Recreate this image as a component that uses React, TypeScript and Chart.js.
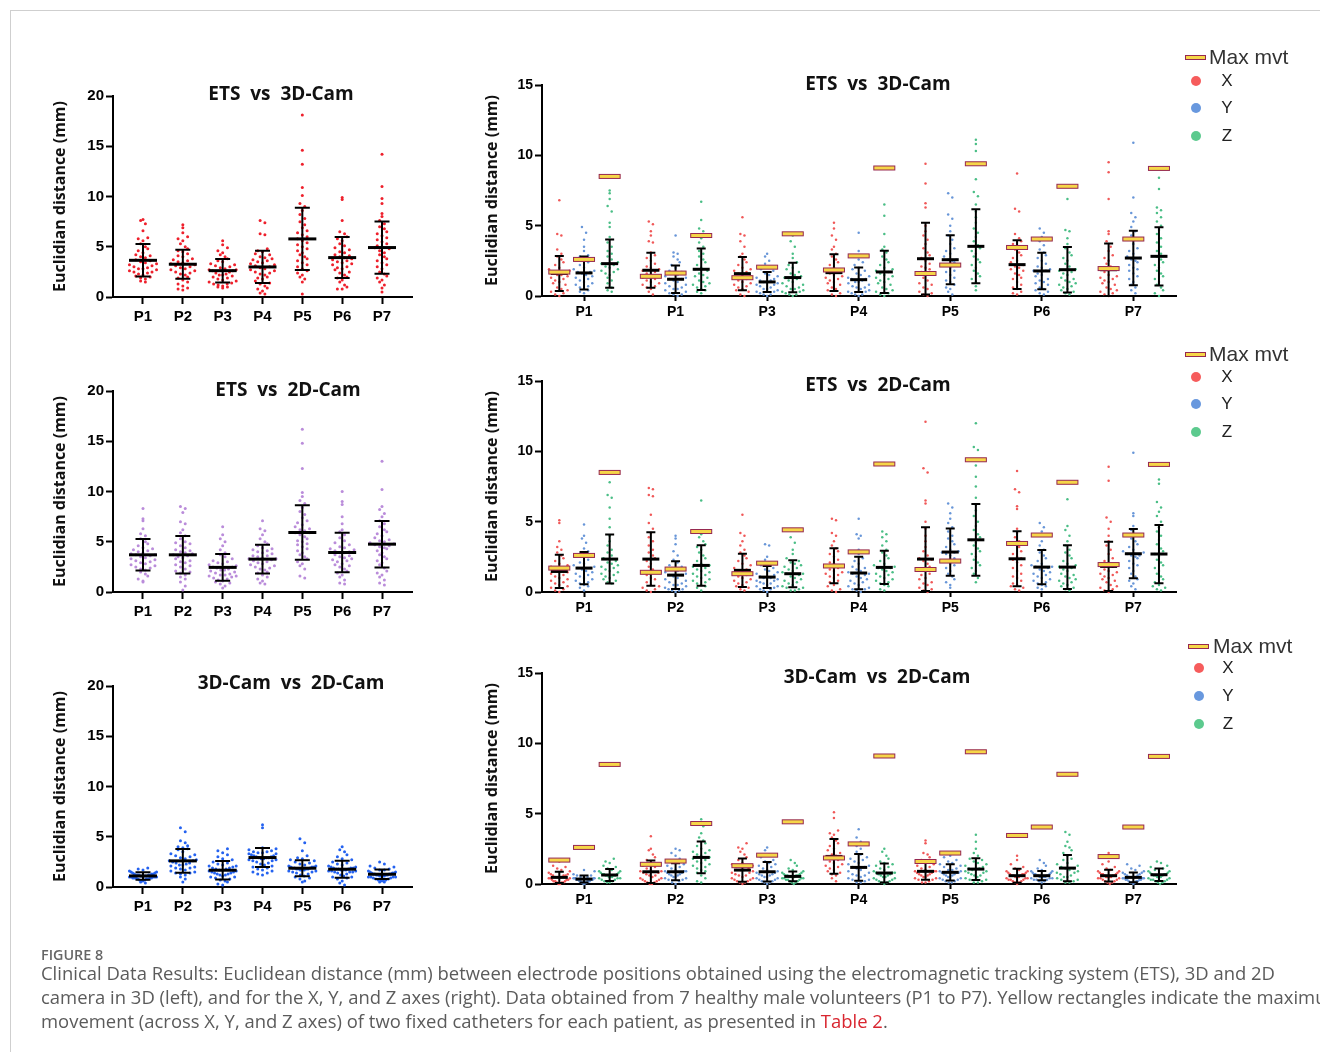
import React, { useEffect, useRef } from "react";
import { Chart, registerables } from "chart.js";
Chart.register(...registerables);

// ---------- categories & tick labels ----------
const patientLabels = ["P1", "P2", "P3", "P4", "P5", "P6", "P7"];
const topRightLabels = ["P1", "P1", "P3", "P4", "P5", "P6", "P7"];
const leftYTicks = [0, 5, 10, 15, 20];
const rightYTicks = [0, 5, 10, 15];

// ---------- left column: Euclidean distance per patient ----------
const ets3dDist = [
  "7.7 7.6 7.3 6.6 5.9 5.8 5.6 5.3 5.0 4.8 4.6 4.4 4.2 4.1 4.0 3.9 3.7 3.6 3.5 3.4 3.3 3.2 3.1 3.0 2.9 2.8 2.8 2.7 2.6 2.5 2.5 2.4 2.3 2.2 2.1 2.0 1.9 1.8 1.6 1.5",
  "7.2 6.9 6.4 6.0 5.8 5.6 5.3 5.0 4.8 4.6 4.5 4.3 4.1 4.0 3.8 3.7 3.6 3.5 3.4 3.3 3.2 3.1 3.0 2.9 2.8 2.7 2.6 2.5 2.4 2.3 2.2 2.0 1.9 1.7 1.5 1.3 1.1 0.9 0.8 0.7",
  "5.6 5.2 4.9 4.6 4.4 4.2 4.0 3.8 3.6 3.5 3.3 3.2 3.0 2.9 2.8 2.7 2.6 2.6 2.5 2.4 2.3 2.2 2.2 2.1 2.0 1.9 1.8 1.7 1.6 1.5 1.4 1.3 1.3 1.2 1.1 1.0 1.0 0.9 2.7 3.1",
  "7.6 7.4 6.3 6.2 4.8 4.6 4.5 4.3 4.2 4.0 3.9 3.7 3.6 3.5 3.4 3.3 3.2 3.1 3.0 2.9 2.8 2.7 2.6 2.5 2.4 2.3 2.2 2.0 1.9 1.8 1.6 1.4 1.3 1.1 0.9 0.8 0.6 0.4 0.3 3.8",
  "18.1 14.6 13.2 10.9 10.1 9.3 9.0 8.6 8.2 7.8 7.5 7.2 6.9 6.6 6.4 6.2 6.0 5.8 5.6 5.4 5.2 5.0 4.8 4.6 4.4 4.2 4.0 3.8 3.6 3.4 3.2 3.0 2.8 2.6 2.4 2.2 2.0 1.8 1.5 0.3",
  "9.9 9.7 7.6 6.5 6.3 6.0 5.8 5.6 5.3 5.1 4.9 4.7 4.5 4.4 4.2 4.1 4.0 3.9 3.8 3.6 3.5 3.4 3.3 3.2 3.0 2.9 2.8 2.7 2.5 2.4 2.2 2.0 1.9 1.7 1.5 1.2 1.0 0.8 0.8 3.7",
  "14.2 11.0 9.8 9.3 8.3 8.0 7.6 7.3 7.0 6.8 6.5 6.3 6.1 5.9 5.7 5.5 5.3 5.1 5.0 4.8 4.6 4.4 4.2 4.0 3.8 3.6 3.4 3.2 3.0 2.8 2.5 2.3 2.1 1.9 1.7 1.5 1.2 0.9 0.5 4.9",
];
const ets3dMean = [3.65, 3.26, 2.62, 2.99, 5.78, 3.92, 4.92];
const ets3dSd = [1.62, 1.45, 1.17, 1.6, 3.1, 2.04, 2.6];

const ets2dDist = [
  "8.3 7.3 7.1 6.3 5.8 5.6 5.3 5.0 4.8 4.6 4.4 4.3 4.1 4.0 3.9 3.8 3.7 3.6 3.5 3.4 3.3 3.2 3.1 3.0 2.9 2.8 2.7 2.6 2.5 2.4 2.3 2.2 2.0 1.8 1.6 1.3 1.1 1.0 3.7 4.2",
  "8.5 8.3 7.9 7.0 6.8 6.2 5.9 5.6 5.3 5.0 4.8 4.6 4.4 4.2 4.0 3.9 3.8 3.6 3.5 3.4 3.3 3.1 3.0 2.9 2.7 2.6 2.5 2.3 2.1 2.0 1.9 1.7 1.5 1.3 1.0 0.6 0.2 3.7 4.1 4.9",
  "6.5 5.7 5.3 5.0 4.6 4.2 3.9 3.7 3.5 3.3 3.1 3.0 2.9 2.8 2.7 2.6 2.5 2.4 2.3 2.2 2.1 2.0 1.9 1.8 1.7 1.6 1.6 1.5 1.4 1.3 1.2 1.1 1.0 0.9 0.8 0.6 0.4 2.5 2.2 1.7",
  "7.1 6.3 6.1 5.7 5.3 5.0 4.8 4.6 4.4 4.3 4.1 4.0 3.9 3.8 3.6 3.5 3.4 3.3 3.2 3.1 3.0 2.9 2.8 2.7 2.6 2.5 2.4 2.2 2.0 1.9 1.7 1.5 1.3 1.1 0.9 0.8 3.3 3.6 2.3 4.2",
  "16.2 14.8 12.3 9.9 9.5 9.1 8.8 8.4 8.0 7.7 7.4 7.1 6.9 6.7 6.5 6.3 6.1 5.9 5.7 5.5 5.3 5.1 5.0 4.8 4.7 4.5 4.3 4.1 3.9 3.7 3.5 3.3 3.0 2.8 2.6 2.3 1.6 1.4 5.9 6.2",
  "10.0 9.0 8.7 7.5 6.8 6.2 6.0 5.7 5.4 5.1 4.9 4.7 4.5 4.4 4.2 4.1 4.0 3.9 3.7 3.6 3.5 3.4 3.2 3.1 3.0 2.8 2.7 2.5 2.3 2.1 1.9 1.7 1.5 1.2 0.9 0.8 3.9 4.3 3.3 2.6",
  "13.0 10.2 8.5 8.2 7.8 7.5 7.1 6.8 6.5 6.2 6.0 5.8 5.6 5.4 5.2 5.0 4.9 4.8 4.6 4.5 4.3 4.1 3.9 3.7 3.5 3.3 3.1 2.9 2.7 2.4 2.1 1.9 1.7 1.5 1.2 0.9 0.7 4.7 5.1 4.4",
];
const ets2dMean = [3.7, 3.7, 2.45, 3.27, 5.92, 3.93, 4.76];
const ets2dSd = [1.57, 1.86, 1.32, 1.42, 2.71, 1.97, 2.31];

const camDist = [
  "1.9 1.8 1.7 1.6 1.5 1.5 1.4 1.4 1.3 1.3 1.3 1.2 1.2 1.2 1.2 1.1 1.1 1.1 1.1 1.0 1.0 1.0 1.0 0.9 0.9 0.9 0.9 0.8 0.8 0.8 0.7 0.7 0.6 0.6 0.5 0.4 1.0 1.1 1.2 0.9",
  "5.9 5.5 4.6 4.4 4.1 4.0 3.9 3.8 3.7 3.5 3.3 3.2 3.0 2.9 2.8 2.7 2.6 2.5 2.4 2.3 2.2 2.1 2.0 1.9 1.8 1.7 1.6 1.5 1.4 1.4 1.3 1.2 1.0 0.8 0.5 2.6 2.4 3.1 1.9 2.2",
  "3.8 3.6 3.4 3.2 3.0 2.8 2.7 2.5 2.4 2.3 2.2 2.1 2.0 1.9 1.9 1.8 1.7 1.7 1.6 1.5 1.5 1.4 1.3 1.2 1.2 1.1 1.0 1.0 0.9 0.8 0.7 0.6 0.5 0.3 0.2 1.6 1.8 1.4 2.1 1.3",
  "6.2 5.9 3.9 3.8 3.7 3.6 3.5 3.4 3.4 3.3 3.2 3.1 3.1 3.0 3.0 2.9 2.9 2.8 2.8 2.7 2.6 2.6 2.5 2.4 2.3 2.2 2.1 2.0 1.9 1.8 1.7 1.6 1.5 1.4 1.3 1.2 2.9 3.3 2.7 3.5",
  "4.8 4.4 3.6 3.1 2.9 2.8 2.7 2.6 2.5 2.4 2.3 2.2 2.1 2.1 2.0 2.0 1.9 1.9 1.8 1.8 1.8 1.7 1.7 1.6 1.6 1.5 1.5 1.4 1.3 1.2 1.1 1.0 0.9 0.8 0.6 0.5 1.9 2.0 1.7 1.8",
  "4.0 3.7 3.5 3.2 3.0 2.8 2.7 2.5 2.4 2.3 2.2 2.1 2.0 2.0 1.9 1.9 1.8 1.8 1.7 1.7 1.6 1.6 1.5 1.5 1.4 1.3 1.2 1.1 1.0 1.0 0.9 0.8 0.6 0.4 0.2 1.7 1.8 1.6 1.9 1.5",
  "2.5 2.3 2.1 2.0 1.9 1.8 1.7 1.7 1.6 1.5 1.5 1.4 1.4 1.3 1.3 1.3 1.2 1.2 1.2 1.1 1.1 1.1 1.0 1.0 1.0 0.9 0.9 0.8 0.8 0.7 0.7 0.6 0.6 0.5 0.5 1.2 1.3 1.1 1.4 1.0",
];
const camMean = [1.1, 2.6, 1.67, 2.93, 1.87, 1.77, 1.27];
const camSd = [0.37, 1.17, 0.92, 0.95, 0.8, 0.84, 0.47];

// ---------- right column: per-axis distances ----------
const ets3dX = [
  "6.8 4.4 4.3 3.3 3.0 2.8 2.6 2.4 2.2 2.0 1.9 1.8 1.7 1.6 1.5 1.4 1.3 1.2 1.1 1.0 0.9 0.8 0.6 0.5 0.4 0.3 0.2 0.1 0.0 1.5",
  "5.3 5.1 4.6 4.3 3.9 3.8 3.1 2.9 2.7 2.5 2.3 2.1 2.0 1.9 1.8 1.7 1.6 1.5 1.4 1.3 1.2 1.1 1.0 0.9 0.8 0.7 0.6 0.5 0.3 0.1",
  "5.6 4.4 4.3 3.9 3.5 3.0 2.8 2.6 2.4 2.2 2.0 1.9 1.8 1.7 1.6 1.5 1.4 1.3 1.2 1.1 1.0 0.9 0.8 0.7 0.6 0.5 0.4 0.3 0.1 0.0",
  "5.2 4.8 4.3 4.0 3.5 3.3 3.0 2.8 2.6 2.4 2.2 2.0 1.9 1.8 1.7 1.6 1.5 1.4 1.3 1.2 1.0 0.9 0.8 0.6 0.5 0.4 0.2 0.1 0.0 1.1",
  "9.4 8.0 6.6 6.3 5.0 4.6 4.3 4.0 3.7 3.4 3.1 2.9 2.7 2.5 2.3 2.1 1.9 1.7 1.5 1.3 1.1 0.9 0.8 0.6 0.5 0.3 0.2 0.1 0.0 2.0",
  "8.7 6.2 6.0 4.4 4.1 3.9 3.7 3.5 3.3 3.1 2.9 2.7 2.5 2.4 2.2 2.0 1.9 1.8 1.6 1.5 1.3 1.2 1.0 0.8 0.6 0.5 0.3 0.2 0.1 2.1",
  "9.5 8.8 6.9 4.6 4.4 3.9 3.5 3.2 2.9 2.7 2.5 2.3 2.1 1.9 1.7 1.5 1.4 1.3 1.2 1.1 1.0 0.9 0.8 0.6 0.5 0.4 0.3 0.2 0.1 0.0",
];
const ets3dY = [
  "4.9 4.5 4.0 3.5 3.2 2.9 2.8 2.6 2.4 2.2 2.0 1.9 1.8 1.7 1.6 1.5 1.4 1.3 1.2 1.1 1.0 0.9 0.8 0.7 0.6 0.5 0.4 0.3 0.2 1.7",
  "4.3 3.1 3.0 2.8 2.6 2.4 2.2 2.0 1.8 1.7 1.6 1.5 1.4 1.3 1.2 1.1 1.0 0.9 0.8 0.7 0.6 0.5 0.5 0.4 0.3 0.2 0.1 0.1 0.0 1.2",
  "3.0 2.8 2.5 2.3 2.1 1.9 1.8 1.6 1.5 1.4 1.3 1.2 1.1 1.0 1.0 0.9 0.8 0.8 0.7 0.6 0.5 0.5 0.4 0.3 0.3 0.2 0.1 0.1 0.0 1.1",
  "4.5 3.2 2.6 2.4 2.2 2.0 1.9 1.8 1.6 1.5 1.4 1.3 1.2 1.1 1.0 1.0 0.9 0.8 0.7 0.6 0.6 0.5 0.4 0.3 0.3 0.2 0.1 0.1 0.0 1.2",
  "7.3 7.0 5.8 5.5 5.0 4.6 4.3 4.0 3.7 3.4 3.2 3.0 2.8 2.6 2.5 2.4 2.2 2.0 1.8 1.7 1.5 1.3 1.1 1.0 0.8 0.6 0.5 0.3 0.1 2.6",
  "4.8 4.5 4.2 3.9 3.6 3.3 3.1 2.9 2.7 2.5 2.3 2.1 2.0 1.9 1.8 1.6 1.5 1.4 1.2 1.1 1.0 0.9 0.8 0.6 0.5 0.4 0.3 0.2 0.1 1.8",
  "10.9 7.0 5.9 5.6 5.3 4.9 4.6 4.3 4.0 3.7 3.4 3.2 3.0 2.8 2.6 2.5 2.4 2.2 2.0 1.9 1.8 1.6 1.4 1.2 1.0 0.8 0.6 0.4 0.2 2.7",
];
const ets3dZ = [
  "7.5 7.3 6.9 6.4 6.0 5.2 4.9 4.2 3.8 3.5 3.2 3.0 2.8 2.6 2.4 2.3 2.2 2.1 2.0 1.9 1.8 1.7 1.6 1.5 1.3 1.1 0.9 0.6 0.4 0.3",
  "6.7 5.4 4.8 4.6 4.1 3.8 3.5 3.2 3.0 2.8 2.6 2.4 2.2 2.0 1.9 1.8 1.6 1.5 1.4 1.3 1.1 1.0 0.9 0.8 0.7 0.6 0.5 0.4 0.3 0.2",
  "4.3 3.9 3.5 3.0 2.7 2.4 2.2 2.0 1.9 1.7 1.6 1.5 1.4 1.3 1.2 1.1 1.0 0.9 0.8 0.7 0.6 0.5 0.5 0.4 0.3 0.3 0.2 0.1 0.1 0.0",
  "6.5 5.7 4.4 3.5 3.3 3.1 2.8 2.6 2.4 2.2 2.0 1.9 1.8 1.7 1.6 1.5 1.4 1.3 1.2 1.1 1.0 0.9 0.8 0.6 0.5 0.4 0.3 0.2 0.1 0.0",
  "11.1 10.8 10.3 8.3 7.4 7.1 6.5 6.0 5.6 5.2 4.8 4.5 4.2 3.9 3.6 3.4 3.2 3.0 2.8 2.6 2.4 2.2 2.0 1.8 1.6 1.4 1.2 1.0 0.7 0.4",
  "6.9 4.7 4.6 4.1 3.7 3.4 3.1 2.9 2.7 2.5 2.3 2.1 1.9 1.8 1.7 1.6 1.5 1.3 1.2 1.1 1.0 0.9 0.8 0.7 0.6 0.5 0.4 0.3 0.2 0.1",
  "8.4 7.6 6.3 6.1 5.9 5.6 5.3 5.0 4.7 4.4 4.1 3.8 3.5 3.2 3.0 2.8 2.6 2.4 2.2 2.0 1.8 1.6 1.4 1.2 1.0 0.8 0.6 0.4 0.2 0.0",
];
const ets3dXMean = [1.6, 1.83, 1.59, 1.66, 2.65, 2.23, 1.87];
const ets3dXSd = [1.25, 1.25, 1.19, 1.3, 2.55, 1.74, 1.87];
const ets3dYMean = [1.64, 1.19, 1.0, 1.16, 2.58, 1.78, 2.7];
const ets3dYSd = [1.17, 0.97, 0.71, 0.87, 1.74, 1.3, 1.93];
const ets3dZMean = [2.3, 1.9, 1.31, 1.71, 3.53, 1.87, 2.82];
const ets3dZSd = [1.72, 1.48, 1.05, 1.5, 2.63, 1.62, 2.07];

const ets2dX = [
  "5.1 4.9 3.6 3.2 3.0 2.8 2.6 2.4 2.2 2.0 1.9 1.8 1.6 1.5 1.4 1.3 1.2 1.1 1.0 0.9 0.8 0.7 0.6 0.5 0.4 0.3 0.2 0.1 0.0 1.5",
  "7.4 7.3 6.9 6.8 5.5 4.9 4.5 4.2 3.9 3.6 3.3 3.0 2.8 2.6 2.4 2.2 2.0 1.8 1.6 1.4 1.2 1.0 0.9 0.7 0.5 0.4 0.3 0.2 0.1 0.0",
  "5.5 4.2 4.0 3.6 3.3 3.0 2.8 2.6 2.4 2.2 2.0 1.9 1.7 1.6 1.5 1.4 1.3 1.2 1.1 1.0 0.9 0.8 0.7 0.6 0.5 0.4 0.3 0.2 0.1 1.5",
  "5.2 5.1 4.2 4.0 3.6 3.3 3.1 2.9 2.7 2.5 2.3 2.1 2.0 1.9 1.8 1.7 1.6 1.5 1.4 1.3 1.2 1.1 1.0 0.8 0.7 0.5 0.4 0.2 0.1 0.0",
  "12.1 8.8 8.5 6.5 6.3 5.0 4.5 4.0 3.6 3.2 2.9 2.6 2.4 2.2 2.0 1.8 1.6 1.5 1.3 1.2 1.0 0.9 0.7 0.6 0.5 0.3 0.2 0.1 0.0 2.3",
  "8.6 7.3 7.1 6.1 5.9 4.5 4.2 3.9 3.6 3.4 3.2 2.9 2.7 2.5 2.3 2.1 1.9 1.7 1.5 1.3 1.1 1.0 0.8 0.6 0.5 0.4 0.3 0.2 0.1 2.4",
  "8.9 7.9 5.3 5.0 4.5 4.0 3.6 3.3 3.0 2.7 2.4 2.2 2.0 1.8 1.6 1.5 1.4 1.3 1.2 1.1 1.0 0.9 0.8 0.7 0.5 0.4 0.3 0.2 0.1 0.0",
];
const ets2dY = [
  "4.8 4.0 3.8 3.5 3.1 2.9 2.7 2.5 2.3 2.1 2.0 1.9 1.8 1.7 1.6 1.5 1.4 1.3 1.2 1.1 1.0 0.9 0.8 0.7 0.6 0.5 0.4 0.3 0.1 1.7",
  "4.0 3.8 3.4 2.9 2.6 2.3 2.1 1.9 1.8 1.6 1.5 1.4 1.3 1.2 1.1 1.0 0.9 0.8 0.7 0.6 0.5 0.5 0.4 0.3 0.2 0.2 0.1 0.1 0.0 1.2",
  "3.4 3.3 2.5 2.3 2.1 1.9 1.7 1.6 1.5 1.4 1.3 1.2 1.1 1.0 1.0 0.9 0.8 0.8 0.7 0.6 0.6 0.5 0.4 0.4 0.3 0.2 0.2 0.1 0.0 1.0",
  "5.2 4.1 4.0 3.8 3.0 2.7 2.4 2.2 2.0 1.8 1.7 1.6 1.5 1.4 1.3 1.2 1.1 1.0 0.9 0.8 0.7 0.6 0.5 0.4 0.3 0.2 0.2 0.1 0.0 1.3",
  "6.3 6.0 5.6 5.2 4.9 4.6 4.3 4.0 3.8 3.6 3.4 3.2 3.0 2.9 2.8 2.7 2.6 2.4 2.2 2.0 1.9 1.7 1.5 1.3 1.1 0.9 0.7 0.5 0.3 2.8",
  "4.9 4.6 4.3 3.6 3.3 3.0 2.8 2.6 2.4 2.2 2.0 1.9 1.8 1.7 1.6 1.5 1.4 1.3 1.2 1.1 1.0 0.9 0.8 0.7 0.6 0.5 0.4 0.3 0.2 1.8",
  "9.9 5.6 5.4 4.7 4.4 4.1 3.8 3.6 3.4 3.2 3.0 2.9 2.8 2.7 2.6 2.5 2.4 2.2 2.0 1.9 1.7 1.5 1.3 1.1 0.9 0.8 0.6 0.4 0.2 2.6",
];
const ets2dZ = [
  "7.8 6.9 6.7 6.0 5.2 4.6 4.0 3.6 3.3 3.0 2.8 2.6 2.4 2.2 2.1 2.0 1.9 1.8 1.7 1.6 1.5 1.4 1.3 1.2 1.1 1.0 0.9 0.8 0.7 0.6",
  "6.5 4.1 3.9 3.6 3.4 3.2 3.0 2.8 2.6 2.4 2.2 2.0 1.9 1.8 1.7 1.6 1.5 1.4 1.3 1.2 1.1 1.0 0.9 0.8 0.7 0.6 0.5 0.4 0.3 0.1",
  "3.9 3.5 3.0 2.7 2.4 2.2 2.1 2.0 1.9 1.8 1.7 1.6 1.5 1.4 1.3 1.2 1.1 1.0 0.9 0.8 0.7 0.6 0.5 0.4 0.3 0.3 0.2 0.1 0.1 1.3",
  "4.3 4.1 3.9 3.6 3.3 3.0 2.8 2.6 2.4 2.2 2.0 1.9 1.8 1.7 1.6 1.5 1.4 1.3 1.2 1.1 1.0 0.9 0.8 0.7 0.6 0.5 0.4 0.2 0.1 1.7",
  "12.0 10.3 10.1 9.0 8.2 7.5 6.7 6.2 5.8 5.4 5.0 4.7 4.4 4.1 3.9 3.7 3.5 3.3 3.1 2.9 2.7 2.5 2.3 2.1 1.9 1.7 1.5 1.3 1.0 0.7",
  "6.6 4.7 4.4 4.0 3.6 3.3 3.0 2.8 2.6 2.4 2.2 2.0 1.9 1.8 1.7 1.6 1.5 1.3 1.2 1.1 1.0 0.9 0.8 0.7 0.6 0.5 0.4 0.3 0.2 0.1",
  "8.0 7.7 6.4 6.0 5.7 5.4 5.0 4.6 4.3 4.0 3.7 3.4 3.1 2.9 2.7 2.5 2.3 2.1 1.9 1.7 1.5 1.3 1.1 0.9 0.7 0.5 0.4 0.3 0.2 0.1",
];
const ets2dXMean = [1.46, 2.34, 1.54, 1.87, 2.34, 2.36, 1.82];
const ets2dXSd = [1.18, 1.9, 1.18, 1.24, 2.27, 1.95, 1.75];
const ets2dYMean = [1.7, 1.2, 1.06, 1.35, 2.84, 1.77, 2.72];
const ets2dYSd = [1.15, 0.98, 0.78, 1.15, 1.68, 1.22, 1.75];
const ets2dZMean = [2.34, 1.89, 1.3, 1.75, 3.71, 1.77, 2.7];
const ets2dZSd = [1.74, 1.44, 0.96, 1.18, 2.55, 1.55, 2.07];

const camX = [
  "1.6 1.3 1.2 1.1 1.0 0.9 0.8 0.7 0.7 0.6 0.6 0.5 0.5 0.5 0.4 0.4 0.4 0.3 0.3 0.3 0.2 0.2 0.2 0.1 0.1 0.1 0.0 0.0 0.5 0.6",
  "3.4 2.5 2.4 2.1 1.9 1.7 1.5 1.4 1.3 1.2 1.1 1.0 0.9 0.8 0.8 0.7 0.6 0.6 0.5 0.4 0.4 0.3 0.3 0.2 0.2 0.1 0.1 0.0 0.0 0.9",
  "2.9 2.6 2.5 2.3 2.1 1.9 1.7 1.5 1.4 1.3 1.2 1.1 1.0 0.9 0.8 0.8 0.7 0.6 0.6 0.5 0.4 0.4 0.3 0.3 0.2 0.2 0.1 0.1 0.0 1.0",
  "5.1 4.7 3.8 3.6 3.5 3.3 3.1 2.9 2.7 2.5 2.4 2.2 2.1 2.0 1.9 1.8 1.7 1.6 1.5 1.4 1.3 1.2 1.1 1.0 0.9 0.8 0.7 0.6 0.4 0.2",
  "3.1 2.9 2.2 2.1 1.9 1.7 1.5 1.4 1.3 1.2 1.1 1.0 0.9 0.9 0.8 0.8 0.7 0.7 0.6 0.6 0.5 0.5 0.4 0.4 0.3 0.3 0.2 0.1 0.1 0.9",
  "2.0 1.7 1.4 1.2 1.1 1.0 0.9 0.9 0.8 0.8 0.7 0.7 0.6 0.6 0.5 0.5 0.5 0.4 0.4 0.4 0.3 0.3 0.3 0.2 0.2 0.1 0.1 0.0 0.6 0.7",
  "2.2 1.6 1.4 1.2 1.1 1.0 0.9 0.9 0.8 0.8 0.7 0.7 0.6 0.6 0.5 0.5 0.5 0.4 0.4 0.4 0.3 0.3 0.2 0.2 0.1 0.1 0.0 0.6 0.5 0.7",
];
const camY = [
  "1.0 0.9 0.7 0.6 0.6 0.5 0.5 0.4 0.4 0.4 0.3 0.3 0.3 0.3 0.3 0.2 0.2 0.2 0.2 0.2 0.1 0.1 0.1 0.1 0.0 0.0 0.4 0.3 0.5 0.4",
  "2.5 2.4 2.2 2.0 1.8 1.6 1.5 1.4 1.3 1.2 1.1 1.0 0.9 0.9 0.8 0.8 0.7 0.7 0.6 0.6 0.5 0.5 0.4 0.4 0.3 0.3 0.2 0.1 0.0 0.9",
  "2.6 2.4 2.1 1.9 1.7 1.6 1.5 1.4 1.3 1.2 1.1 1.0 0.9 0.8 0.8 0.7 0.7 0.6 0.6 0.5 0.5 0.4 0.4 0.3 0.3 0.2 0.2 0.1 0.1 0.0",
  "3.9 3.3 3.0 2.7 2.5 2.3 2.1 1.9 1.8 1.7 1.6 1.5 1.4 1.3 1.2 1.1 1.0 0.9 0.8 0.7 0.6 0.6 0.5 0.4 0.3 0.3 0.2 0.1 0.1 1.2",
  "2.0 1.9 1.7 1.6 1.5 1.4 1.3 1.2 1.1 1.0 1.0 0.9 0.9 0.8 0.8 0.7 0.7 0.6 0.6 0.5 0.5 0.4 0.4 0.3 0.3 0.2 0.2 0.1 0.1 0.8",
  "1.7 1.5 1.3 1.1 1.0 0.9 0.9 0.8 0.8 0.7 0.7 0.7 0.6 0.6 0.6 0.5 0.5 0.5 0.5 0.4 0.4 0.4 0.3 0.3 0.3 0.2 0.2 0.1 0.6 0.5",
  "1.4 1.3 1.1 1.0 0.9 0.8 0.8 0.7 0.7 0.6 0.6 0.5 0.5 0.5 0.4 0.4 0.4 0.3 0.3 0.3 0.2 0.2 0.2 0.1 0.1 0.1 0.0 0.5 0.4 0.3",
];
const camZ = [
  "1.8 1.6 1.5 1.3 1.2 1.1 1.0 0.9 0.9 0.8 0.8 0.7 0.7 0.6 0.6 0.6 0.5 0.5 0.5 0.4 0.4 0.4 0.3 0.3 0.2 0.2 0.1 0.1 0.7 0.6",
  "4.6 4.3 4.1 3.6 3.3 3.1 2.9 2.7 2.5 2.4 2.3 2.2 2.1 2.0 1.9 1.8 1.7 1.6 1.5 1.4 1.3 1.2 1.1 1.0 0.9 0.8 0.6 0.4 0.2 0.1",
  "1.7 1.5 1.3 1.1 1.0 0.9 0.8 0.8 0.7 0.7 0.6 0.6 0.6 0.5 0.5 0.5 0.4 0.4 0.4 0.3 0.3 0.3 0.2 0.2 0.1 0.1 0.0 0.5 0.6 0.4",
  "2.5 2.3 2.0 1.8 1.6 1.5 1.4 1.3 1.2 1.1 1.0 0.9 0.8 0.8 0.7 0.7 0.6 0.6 0.5 0.5 0.4 0.4 0.3 0.3 0.2 0.2 0.1 0.1 0.0 0.8",
  "3.5 3.0 2.5 2.2 2.0 1.8 1.7 1.6 1.5 1.4 1.3 1.2 1.1 1.0 1.0 0.9 0.9 0.8 0.8 0.7 0.6 0.6 0.5 0.4 0.3 0.3 0.2 0.1 0.1 1.1",
  "3.7 3.5 3.0 2.7 2.6 2.4 2.2 2.0 1.8 1.7 1.5 1.4 1.3 1.2 1.1 1.0 0.9 0.8 0.8 0.7 0.6 0.5 0.5 0.4 0.3 0.3 0.2 0.1 0.1 1.1",
  "1.6 1.5 1.3 1.2 1.1 1.0 1.0 0.9 0.9 0.8 0.8 0.7 0.7 0.6 0.6 0.6 0.5 0.5 0.5 0.4 0.4 0.3 0.3 0.3 0.2 0.2 0.1 0.1 0.0 0.7",
];
const camXMean = [0.47, 0.87, 0.99, 1.96, 0.9, 0.59, 0.59];
const camXSd = [0.4, 0.8, 0.83, 1.24, 0.6, 0.5, 0.42];
const camYMean = [0.35, 0.87, 0.87, 1.18, 0.83, 0.59, 0.47];
const camYSd = [0.25, 0.6, 0.7, 0.95, 0.58, 0.33, 0.35];
const camZMean = [0.64, 1.89, 0.54, 0.78, 1.06, 1.13, 0.66];
const camZSd = [0.42, 1.13, 0.35, 0.67, 0.77, 0.93, 0.45];

// maximum movement of the fixed catheters (Table 2)
const maxMvtX = [1.7, 1.4, 1.3, 1.85, 1.6, 3.45, 1.95];
const maxMvtY = [2.6, 1.63, 2.05, 2.85, 2.2, 4.05, 4.05];
const maxMvtZ = [8.5, 4.3, 4.42, 9.1, 9.4, 7.8, 9.07];

// ---------- styling ----------
const RED_LEFT = "rgb(238,32,44)";
const PURPLE_LEFT = "rgb(186,140,218)";
const BLUE_LEFT = "rgb(36,98,240)";
const COL_X = "rgb(240,88,88)";
const COL_Y = "rgb(104,150,216)";
const COL_Z = "rgb(74,190,134)";
const TICK_FONT = '"Liberation Sans", Arial, sans-serif';
const TITLE_FONT = '"Open Sans", "Noto Sans", sans-serif';

const parse = (s: string) => s.trim().split(/\s+/).map(Number);

type Pt = { x: number; y: number };
// beeswarm-style layout of the dots of one group
function swarm(values: number[], center: number, bin: number, step: number, maxHalf: number): Pt[] {
  const sorted = [...values].sort((a, b) => a - b);
  const bins = new Map<number, number[]>();
  for (const v of sorted) {
    const b = Math.floor(v / bin);
    if (!bins.has(b)) bins.set(b, []);
    bins.get(b)!.push(v);
  }
  const out: Pt[] = [];
  bins.forEach((arr) => {
    const n = arr.length;
    let s = step;
    if (n > 1 && ((n - 1) * s) / 2 > maxHalf) s = (2 * maxHalf) / (n - 1);
    const order: number[] = [];
    for (let i = 0; i < n; i++) order.push(i % 2 === 0 ? i / 2 : -(i + 1) / 2);
    const shift = n % 2 === 0 ? 0.5 : 0;
    arr.forEach((v, i) => out.push({ x: center + (order[i] + shift) * s, y: v }));
  });
  return out;
}

type Bar = { pos: number; mean: number; sd: number };
type Rect = { pos: number; val: number };
type Spec = {
  left: number; top: number; width: number; height: number;
  padTop: number; padRight: number; yAxisWidth: number; xAxisHeight: number;
  yTicks: number[]; xMin: number; xMax: number; labels: string[];
  datasets: { color: string; points: Pt[] }[];
  bars: Bar[]; rects: Rect[];
  meanHalf: number; capHalf: number;
  title: string; titleX: number; titleY: number; titleSize: number;
  tickSize: number; tickLength: number; xTickPad: number; yTitlePad: number; yTitleSize: number;
  radius: number;
};

function ChartPanel({ spec }: { spec: Spec }) {
  const ref = useRef<HTMLCanvasElement>(null);
  useEffect(() => {
    const canvas = ref.current!;
    const overlay = {
      id: "overlay",
      afterDatasetsDraw(chart: any) {
        const { ctx } = chart;
        const xs = chart.scales.x;
        const ys = chart.scales.y;
        ctx.save();
        ctx.strokeStyle = "#000";
        ctx.lineCap = "butt";
        for (const b of spec.bars) {
          const px = xs.getPixelForValue(b.pos);
          const pm = ys.getPixelForValue(b.mean);
          const pu = ys.getPixelForValue(b.mean + b.sd);
          const pl = ys.getPixelForValue(Math.max(0, b.mean - b.sd));
          ctx.lineWidth = 2;
          ctx.beginPath();
          ctx.moveTo(px, pu); ctx.lineTo(px, pl);
          ctx.moveTo(px - spec.capHalf, pu); ctx.lineTo(px + spec.capHalf, pu);
          ctx.moveTo(px - spec.capHalf, pl); ctx.lineTo(px + spec.capHalf, pl);
          ctx.stroke();
          ctx.lineWidth = 3;
          ctx.beginPath();
          ctx.moveTo(px - spec.meanHalf, pm); ctx.lineTo(px + spec.meanHalf, pm);
          ctx.stroke();
        }
        for (const r of spec.rects) {
          const px = xs.getPixelForValue(r.pos);
          const py = ys.getPixelForValue(r.val);
          ctx.fillStyle = "rgb(246,214,72)";
          ctx.strokeStyle = "rgb(150,40,80)";
          ctx.lineWidth = 1;
          ctx.fillRect(px - 10.5, py - 2, 21, 4);
          ctx.strokeRect(px - 10.5, py - 2, 21, 4);
        }
        ctx.fillStyle = "#111";
        ctx.font = `bold ${spec.titleSize}px ${TITLE_FONT}`;
        ctx.textAlign = "center";
        ctx.textBaseline = "middle";
        try { (ctx as any).wordSpacing = "5px"; } catch (e) {}
        ctx.fillText(spec.title, spec.titleX, spec.titleY);
        ctx.restore();
      },
    };
    const chart = new Chart(canvas, {
      type: "scatter",
      data: {
        datasets: spec.datasets.map((d) => ({
          data: d.points,
          backgroundColor: d.color,
          borderWidth: 0,
          pointRadius: spec.radius,
          pointHoverRadius: spec.radius,
          clip: false as any,
        })),
      },
      options: {
        animation: false,
        responsive: false,
        events: [],
        layout: { padding: { top: spec.padTop, right: spec.padRight, left: 0, bottom: 0 } },
        plugins: { legend: { display: false }, tooltip: { enabled: false } },
        scales: {
          x: {
            type: "linear",
            min: spec.xMin,
            max: spec.xMax,
            afterBuildTicks: (s: any) => { s.ticks = spec.labels.map((_, i) => ({ value: i + 1 })); },
            afterFit: (s: any) => { s.height = spec.xAxisHeight; },
            ticks: {
              callback: (v: any) => spec.labels[Math.round(Number(v)) - 1] ?? "",
              font: { family: TICK_FONT, size: spec.tickSize, weight: "bold" },
              color: "#000",
              padding: spec.xTickPad,
              maxRotation: 0,
              autoSkip: false,
            },
            grid: { display: true, drawOnChartArea: false, drawTicks: true, tickLength: spec.tickLength, tickColor: "#000", tickWidth: 2 },
            border: { display: true, color: "#000", width: 2 },
          },
          y: {
            type: "linear",
            min: 0,
            max: spec.yTicks[spec.yTicks.length - 1],
            afterBuildTicks: (s: any) => { s.ticks = spec.yTicks.map((v) => ({ value: v })); },
            afterFit: (s: any) => { s.width = spec.yAxisWidth; },
            ticks: {
              font: { family: TICK_FONT, size: spec.tickSize, weight: "bold" },
              color: "#000",
              padding: 2,
            },
            title: {
              display: true,
              text: "Euclidian distance (mm)",
              font: { family: TITLE_FONT, size: spec.yTitleSize, weight: "bold" },
              color: "#111",
              padding: { top: spec.yTitlePad, bottom: 0 },
            },
            grid: { display: true, drawOnChartArea: false, drawTicks: true, tickLength: 7, tickColor: "#000", tickWidth: 2 },
            border: { display: true, color: "#000", width: 2 },
          },
        },
      } as any,
      plugins: [overlay],
    });
    return () => chart.destroy();
  }, [spec]);
  return (
    <canvas
      ref={ref}
      width={spec.width}
      height={spec.height}
      style={{ position: "absolute", left: spec.left, top: spec.top, width: spec.width, height: spec.height }}
    />
  );
}

function leftSpec(dist: string[], mean: number[], sd: number[], color: string, title: string, top: number, titleX: number, titleY: number): Spec {
  const points: Pt[] = [];
  dist.forEach((s, i) => points.push(...swarm(parse(s), i + 1, 0.55, 0.12, 0.34)));
  return {
    left: 40, top, width: 400, height: 267,
    padTop: 30, padRight: 28, yAxisWidth: 73, xAxisHeight: 36,
    yTicks: leftYTicks, xMin: 0.247, xMax: 7.753, labels: patientLabels,
    datasets: [{ color, points }],
    bars: mean.map((m, i) => ({ pos: i + 1, mean: m, sd: sd[i] })),
    rects: [],
    meanHalf: 14, capHalf: 7.5,
    title, titleX, titleY, titleSize: 19,
    tickSize: 15, tickLength: 7, xTickPad: 4, yTitlePad: 11, yTitleSize: 16,
    radius: 1.5,
  };
}

const OFF = [-0.27, 0, 0.28];
function rightSpec(
  series: string[][], means: number[][], sds: number[][], labels: string[], title: string,
  top: number, titleY: number, titleX: number
): Spec {
  const colors = [COL_X, COL_Y, COL_Z];
  const maxes = [maxMvtX, maxMvtY, maxMvtZ];
  const datasets = series.map((ser, k) => {
    const points: Pt[] = [];
    ser.forEach((s, i) => points.push(...swarm(parse(s), i + 1 + OFF[k], 0.5, 0.045, 0.115)));
    return { color: colors[k], points };
  });
  const bars: Bar[] = [];
  const rects: Rect[] = [];
  for (let k = 0; k < 3; k++) {
    for (let i = 0; i < 7; i++) {
      bars.push({ pos: i + 1 + OFF[k], mean: means[k][i], sd: sds[k][i] });
      rects.push({ pos: i + 1 + OFF[k], val: maxes[k][i] });
    }
  }
  return {
    left: 480, top, width: 710, height: 271,
    padTop: 30, padRight: 14, yAxisWidth: 62, xAxisHeight: 30,
    yTicks: rightYTicks, xMin: 0.541, xMax: 7.466, labels,
    datasets, bars, rects,
    meanHalf: 8.5, capHalf: 4.5,
    title, titleX, titleY, titleSize: 19,
    tickSize: 14, tickLength: 5, xTickPad: 3, yTitlePad: 3, yTitleSize: 16,
    radius: 1.25,
  };
}

const specs: Spec[] = [
  leftSpec(ets3dDist, ets3dMean, ets3dSd, RED_LEFT, "ETS vs 3D-Cam", 66, 241, 29),
  leftSpec(ets2dDist, ets2dMean, ets2dSd, PURPLE_LEFT, "ETS vs 2D-Cam", 361, 248, 30),
  leftSpec(camDist, camMean, camSd, BLUE_LEFT, "3D-Cam vs 2D-Cam", 656, 251, 28),
  rightSpec([ets3dX, ets3dY, ets3dZ], [ets3dXMean, ets3dYMean, ets3dZMean], [ets3dXSd, ets3dYSd, ets3dZSd], topRightLabels, "ETS vs 3D-Cam", 55, 30, 398),
  rightSpec([ets2dX, ets2dY, ets2dZ], [ets2dXMean, ets2dYMean, ets2dZMean], [ets2dXSd, ets2dYSd, ets2dZSd], patientLabels, "ETS vs 2D-Cam", 351, 35, 398),
  rightSpec([camX, camY, camZ], [camXMean, camYMean, camZMean], [camXSd, camYSd, camZSd], patientLabels, "3D-Cam vs 2D-Cam", 643, 35, 397),
];

function Legend({ rows, markX, textX, dotX, letterX }: { rows: number[]; markX: number; textX: number; dotX: number; letterX: number }) {
  const items = [
    { label: "X", color: "rgb(246,92,92)" },
    { label: "Y", color: "rgb(104,152,222)" },
    { label: "Z", color: "rgb(92,202,142)" },
  ];
  return (
    <>
      <div style={{ position: "absolute", left: markX, top: rows[0] - 2, width: 19, height: 3, background: "rgb(246,214,72)", border: "1px solid rgb(150,40,80)" }} />
      <div style={{ position: "absolute", left: textX, top: rows[0] - 13, fontFamily: TICK_FONT, fontSize: 21, lineHeight: "26px", color: "#333", whiteSpace: "nowrap" }}>Max mvt</div>
      {items.map((it, i) => (
        <React.Fragment key={it.label}>
          <div style={{ position: "absolute", left: dotX - 5, top: rows[i + 1] - 5, width: 10, height: 10, borderRadius: 5, background: it.color }} />
          <div style={{ position: "absolute", left: letterX - 10, width: 20, textAlign: "center", top: rows[i + 1] - 10, fontFamily: TICK_FONT, fontSize: 17, lineHeight: "20px", color: "#222" }}>{it.label}</div>
        </React.Fragment>
      ))}
    </>
  );
}

function Caption() {
  const ref = useRef<HTMLDivElement>(null);
  useEffect(() => {
    const apply = () => {
      const el = ref.current;
      if (!el) return;
      const line = el.querySelector(".cap-l1") as HTMLElement;
      el.style.transform = "none";
      const w = line.getBoundingClientRect().width;
      if (w > 0) el.style.transform = `scaleX(${1234 / w})`;
    };
    apply();
    (document as any).fonts?.ready?.then(apply);
  }, []);
  const base: React.CSSProperties = { position: "absolute", left: 0, whiteSpace: "nowrap", fontFamily: '"Open Sans", "Noto Sans", sans-serif', color: "#5b5b5b" };
  return (
    <div ref={ref} style={{ position: "absolute", left: 41, top: 0, transformOrigin: "0 0" }}>
      <span style={{ ...base, top: 947, fontSize: 14, lineHeight: "16px", fontWeight: 600, color: "#666" }}>FIGURE 8</span>
      <span className="cap-l1" style={{ ...base, top: 961, fontSize: 18, lineHeight: "24px" }}>
        Clinical Data Results: Euclidean distance (mm) between electrode positions obtained using the electromagnetic tracking system (ETS), 3D and 2D
      </span>
      <span style={{ ...base, top: 985, fontSize: 18, lineHeight: "24px" }}>
        camera in 3D (left), and for the X, Y, and Z axes (right). Data obtained from 7 healthy male volunteers (P1 to P7). Yellow rectangles indicate the maximum
      </span>
      <span style={{ ...base, top: 1009, fontSize: 18, lineHeight: "24px" }}>
        movement (across X, Y, and Z axes) of two fixed catheters for each patient, as presented in <span style={{ color: "#d9252f" }}>Table 2</span>.
      </span>
    </div>
  );
}

export default function App() {
  useEffect(() => {
    document.body.style.overflow = "hidden";
  }, []);
  return (
    <div style={{ position: "absolute", left: 0, top: 0, width: 1320, height: 1052, overflow: "hidden", background: "#fff" }}>
      <div style={{ position: "absolute", left: 10, top: 10, width: 1330, height: 1060, borderTop: "1px solid #cfcfcf", borderLeft: "1px solid #cfcfcf" }} />
      {specs.map((s, i) => (
        <ChartPanel key={i} spec={s} />
      ))}
      <Legend rows={[57, 81, 108, 136]} markX={1185} textX={1209} dotX={1196} letterX={1227} />
      <Legend rows={[354, 377, 404, 432]} markX={1185} textX={1209} dotX={1196} letterX={1227} />
      <Legend rows={[646, 668, 696, 724]} markX={1188} textX={1213} dotX={1199} letterX={1228} />
      <Caption />
    </div>
  );
}
